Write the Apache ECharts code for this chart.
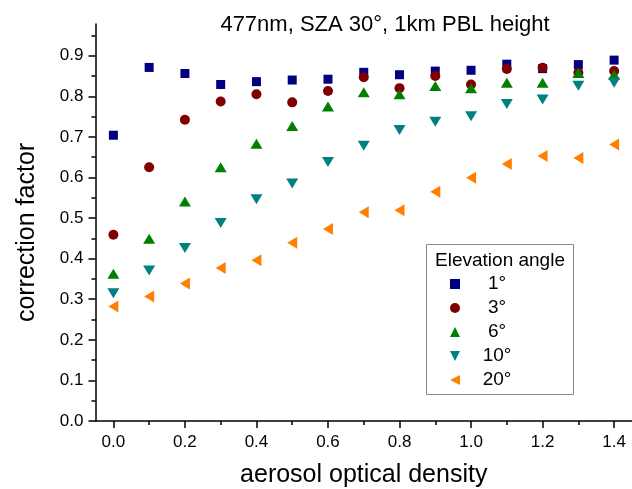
<!DOCTYPE html>
<html>
<head>
<meta charset="utf-8">
<script src="https://cdn.jsdelivr.net/npm/echarts@6/dist/echarts.min.js"></script>
<style>html,body{margin:0;padding:0;background:#fff}#c{width:632px;height:489px}</style>
</head>
<body>
<div id="c"></div>
<script>
const aod = [0.0,0.1,0.2,0.3,0.4,0.5,0.6,0.7,0.8,0.9,1.0,1.1,1.2,1.3,1.4];
const elev1  = [0.704,0.871,0.856,0.829,0.836,0.840,0.842,0.859,0.853,0.862,0.864,0.879,0.868,0.878,0.889];
const elev3  = [0.459,0.625,0.742,0.787,0.805,0.785,0.813,0.847,0.820,0.850,0.829,0.867,0.870,0.858,0.862];
const elev6  = [0.363,0.449,0.541,0.625,0.683,0.727,0.775,0.810,0.805,0.825,0.820,0.833,0.833,0.857,0.853];
const elev10 = [0.315,0.371,0.426,0.488,0.546,0.585,0.638,0.678,0.717,0.737,0.751,0.781,0.792,0.826,0.833];
const elev20 = [0.282,0.307,0.339,0.377,0.396,0.439,0.473,0.514,0.519,0.565,0.599,0.633,0.653,0.648,0.681];
const seriesNames = ['1°','3°','6°','10°','20°'];
const xMajorTicks = [0.0,0.2,0.4,0.6,0.8,1.0,1.2,1.4];
const xMinorTicks = [0.1,0.3,0.5,0.7,0.9,1.1,1.3];
const yMajorTicks = [0.0,0.1,0.2,0.3,0.4,0.5,0.6,0.7,0.8,0.9];
const yMinorTicks = [0.05,0.15,0.25,0.35,0.45,0.55,0.65,0.75,0.85,0.95];

const FONT = '"Liberation Sans", Arial, sans-serif';
const pair = arr => aod.map((x,i)=>[x,arr[i]]);
const chart = echarts.init(document.getElementById('c'));
const axisLineStyle = {color:'#000', width:1.5};
const G = {left:95.5, right:0, top:24, bottom:68};
const gridW = 632 - G.left - G.right;
const gridH = 489 - G.top - G.bottom;
const xBase = {type:'value', min:-0.05, max:1.45, splitLine:{show:false}};
const yBase = {type:'value', min:0, max:0.978, splitLine:{show:false}};
const colors = ['#000080','#800000','#008000','#008080','#ff8000'];
chart.setOption({
  animation:false,
  backgroundColor:'#fff',
  title:{text:'477nm, SZA 30°, 1km PBL height', left:380, textAlign:'center', top:9,
    textStyle:{fontFamily:FONT, fontSize:22, fontWeight:'normal', color:'#000'}},
  grid:Object.assign({outerBoundsMode:'none', containLabel:false}, G),
  xAxis:[
    Object.assign({}, xBase, {
      position:'bottom',
      name:'aerosol optical density', nameLocation:'middle', nameGap:42,
      nameTextStyle:{fontFamily:FONT, fontSize:25, color:'#000'},
      axisLine:{show:true, onZero:false, lineStyle:axisLineStyle},
      axisTick:{show:true, length:7, customValues:xMajorTicks, lineStyle:axisLineStyle},
      axisLabel:{customValues:xMajorTicks, margin:13, fontFamily:FONT, fontSize:17, color:'#000', formatter:v=>v.toFixed(1)}
    }),
    Object.assign({}, xBase, {
      position:'top', offset:-gridH,
      axisLine:{show:false, onZero:false},
      axisTick:{show:true, inside:true, length:4, customValues:xMinorTicks, lineStyle:axisLineStyle},
      axisLabel:{show:false}
    })
  ],
  yAxis:[
    Object.assign({}, yBase, {
      position:'left',
      name:'correction factor', nameLocation:'middle', nameGap:56, nameRotate:90,
      nameTextStyle:{fontFamily:FONT, fontSize:25, color:'#000', padding:[0,20,0,0]},
      axisLine:{show:true, onZero:false, lineStyle:axisLineStyle},
      axisTick:{show:true, length:7, customValues:yMajorTicks, lineStyle:axisLineStyle},
      axisLabel:{customValues:yMajorTicks, margin:12, fontFamily:FONT, fontSize:17, color:'#000', formatter:v=>v.toFixed(1)}
    }),
    Object.assign({}, yBase, {
      position:'right', offset:-gridW,
      axisLine:{show:false, onZero:false},
      axisTick:{show:true, inside:true, length:4, customValues:yMinorTicks, lineStyle:axisLineStyle},
      axisLabel:{show:false}
    })
  ],
  legend:{
    orient:'vertical', left:450, top:274, padding:0, itemGap:4,
    itemWidth:10, itemHeight:10,
    data:[
      {name:seriesNames[0], icon:'rect'},
      {name:seriesNames[1], icon:'circle'},
      {name:seriesNames[2], icon:'path://M5,0L10,10L0,10Z'},
      {name:seriesNames[3], icon:'path://M0,0L10,0L5,10Z'},
      {name:seriesNames[4], icon:'path://M10,0L10,10L0,5Z'}
    ],
    formatter:'{a|{name}}',
    textStyle:{fontFamily:FONT, fontSize:19, color:'#000', lineHeight:20,
      rich:{a:{width:64, align:'center', fontFamily:FONT, fontSize:19, color:'#000', lineHeight:20}}}
  },
  graphic:[
    {type:'rect', shape:{x:426.5, y:244.5, width:147, height:150}, style:{fill:'none', stroke:'#8a8a8a', lineWidth:1}, z:1},
    {type:'text', x:500, y:261, style:{text:'Elevation angle', fontFamily:FONT, fontSize:19, fill:'#000', align:'center', verticalAlign:'middle'}, z:2}
  ],
  series:[
    {name:seriesNames[0], type:'scatter', data:pair(elev1), symbol:'rect', symbolSize:9, itemStyle:{color:colors[0], opacity:1}},
    {name:seriesNames[1], type:'scatter', data:pair(elev3), symbol:'circle', symbolSize:10, itemStyle:{color:colors[1], opacity:1}},
    {name:seriesNames[2], type:'scatter', data:pair(elev6), symbol:'triangle', symbolSize:[12,10], itemStyle:{color:colors[2], opacity:1}},
    {name:seriesNames[3], type:'scatter', data:pair(elev10), symbol:'triangle', symbolSize:[12,10], symbolRotate:180, itemStyle:{color:colors[3], opacity:1}},
    {name:seriesNames[4], type:'scatter', data:pair(elev20), symbol:'triangle', symbolSize:[12,10], symbolRotate:90, itemStyle:{color:colors[4], opacity:1}}
  ]
});
</script>
</body>
</html>
